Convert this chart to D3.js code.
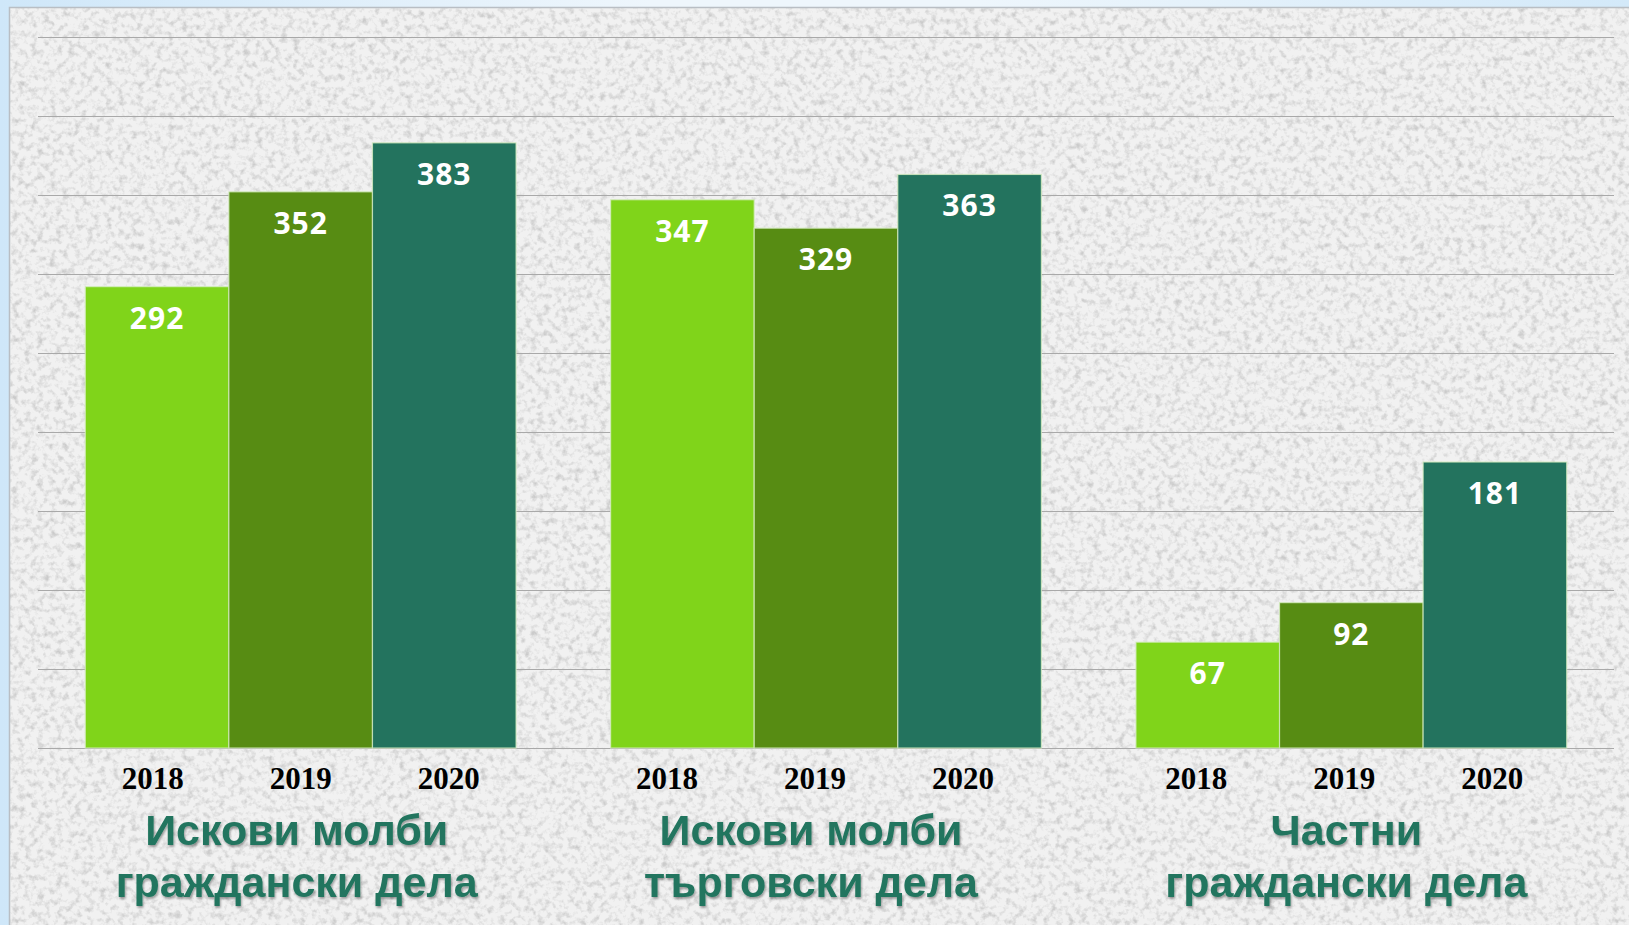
<!DOCTYPE html>
<html>
<head>
<meta charset="utf-8">
<script src="https://cdn.jsdelivr.net/npm/d3@7"></script>
<style>
  html, body { margin: 0; padding: 0; overflow: hidden; }
  body { background: linear-gradient(90deg, #cfe7f9 0%, #eef6fc 40%, #eef6fc 60%, #d3e9f9 100%); }
  .grid line { stroke: #a9a9a9; stroke-width: 1; }
  .grid .domain { display: none; }
</style>
</head>
<body>
<div id="chart"></div>
<script>
// chart data
var categories = [["Искови молби", "граждански дела"], ["Искови молби", "търговски дела"], ["Частни", "граждански дела"]];
var years = ["2018", "2019", "2020"];
var values2018 = [292, 347, 67];
var values2019 = [352, 329, 92];
var values2020 = [383, 363, 181];
var yTicks = [0, 50, 100, 150, 200, 250, 300, 350, 400, 450];
var barColors = ["#80d41a", "#578c13", "#23735e"];

var totalWidth = 1629,
  totalHeight = 925;

// plot area inside the textured panel
var plot = {left: 38, right: 1614, top: 37, bottom: 748};

// the text boxes in the original are nudged a little per group
var titleNudge = [-4, -15, -5],
  yearNudge = [0, -11, -7];

var svg = d3.select("#chart").append("svg")
    .attr("width", totalWidth)
    .attr("height", totalHeight);

var defs = svg.append("defs");

// granite-like texture for the panel
var tex = defs.append("filter").attr("id", "granite")
    .attr("x", 0).attr("y", 0).attr("width", 1).attr("height", 1);
tex.append("feTurbulence")
    .attr("type", "fractalNoise")
    .attr("baseFrequency", 0.16)
    .attr("numOctaves", 3)
    .attr("seed", 7)
    .attr("result", "noise");
tex.append("feColorMatrix")
    .attr("in", "noise")
    .attr("type", "matrix")
    .attr("values", "0 0 0 0 0.6  0 0 0 0 0.6  0 0 0 0 0.6  2.6 0 0 0 -1.2");

var shadow = defs.append("filter").attr("id", "shadow")
    .attr("x", "-10%").attr("y", "-20%").attr("width", "120%").attr("height", "140%");
shadow.append("feDropShadow")
    .attr("dx", 1).attr("dy", 2)
    .attr("stdDeviation", 1.2)
    .attr("flood-color", "#000")
    .attr("flood-opacity", 0.35);

// panel background
svg.append("rect")
    .attr("x", 9).attr("y", 7)
    .attr("width", totalWidth - 9).attr("height", totalHeight - 7)
    .attr("fill", "#f1f1f1");
svg.append("rect")
    .attr("x", 9).attr("y", 7)
    .attr("width", totalWidth - 9).attr("height", totalHeight - 7)
    .attr("fill", "#fff")
    .attr("filter", "url(#granite)");
svg.append("path")
    .attr("d", "M9.5," + totalHeight + "V7.5H" + totalWidth)
    .attr("fill", "none")
    .attr("stroke", "#b9bec4")
    .attr("stroke-width", 1.5);

// scales
var x0 = d3.scaleBand()
    .domain(d3.range(categories.length))
    .range([plot.left, plot.right])
    .paddingInner(0.18)
    .paddingOuter(0.09);

var x1 = d3.scaleBand()
    .domain(years)
    .range([0, x0.bandwidth()]);

// year labels sit a bit wider apart than the bars
var xLabel = d3.scalePoint()
    .domain(years)
    .range([-148, 148]);

var yScale = d3.scaleLinear()
    .domain([0, 450])
    .range([plot.bottom, plot.top]);

var color = d3.scaleOrdinal()
    .domain(years)
    .range(barColors);

// horizontal gridlines
svg.append("g")
    .attr("class", "grid")
    .attr("transform", "translate(" + plot.left + ",0)")
    .call(d3.axisLeft(yScale)
      .tickValues(yTicks)
      .tickSize(-(plot.right - plot.left))
      .tickFormat(""));

// build flat list of bars
var seriesByYear = {"2018": values2018, "2019": values2019, "2020": values2020};
var bars = [];
categories.forEach(function(c, i) {
  years.forEach(function(y) {
    bars.push({cat: i, year: y, value: seriesByYear[y][i]});
  });
});

var barG = svg.append("g");

barG.selectAll("rect")
    .data(bars)
  .enter().append("rect")
    .attr("x", function(d) { return x0(d.cat) + x1(d.year); })
    .attr("y", function(d) { return yScale(d.value); })
    .attr("width", x1.bandwidth())
    .attr("height", function(d) { return yScale(0) - yScale(d.value); })
    .attr("fill", function(d) { return color(d.year); })
    .attr("stroke", "#d6ecc0")
    .attr("stroke-opacity", 0.8)
    .attr("stroke-width", 1.2);

// value labels inside bars
barG.selectAll("text")
    .data(bars)
  .enter().append("text")
    .attr("x", function(d) { return x0(d.cat) + x1(d.year) + x1.bandwidth() / 2; })
    .attr("y", function(d) { return yScale(d.value) + 42; })
    .attr("text-anchor", "middle")
    .attr("fill", "#fff")
    .style("font-family", "'Open Sans', sans-serif")
    .style("font-weight", 700)
    .style("font-size", "30px")
    .style("letter-spacing", "1px")
    .text(function(d) { return d.value; });

// year labels under bars
svg.append("g").selectAll("text")
    .data(bars)
  .enter().append("text")
    .attr("x", function(d) { return x0(d.cat) + x0.bandwidth() / 2 + xLabel(d.year) + yearNudge[d.cat]; })
    .attr("y", 789)
    .attr("text-anchor", "middle")
    .attr("fill", "#000")
    .style("font-family", "'Liberation Serif', serif")
    .style("font-weight", 700)
    .style("font-size", "31px")
    .text(function(d) { return d.year; });

// category titles (two lines)
var catText = svg.append("g").selectAll("text")
    .data(categories)
  .enter().append("text")
    .attr("x", function(d, i) { return x0(i) + x0.bandwidth() / 2 + titleNudge[i]; })
    .attr("y", 845)
    .attr("text-anchor", "middle")
    .attr("fill", "#21755e")
    .attr("filter", "url(#shadow)")
    .style("font-family", "'Liberation Sans', Arial, sans-serif")
    .style("font-weight", 700)
    .style("font-size", "43px");

catText.selectAll("tspan")
    .data(function(d) { return d; })
  .enter().append("tspan")
    .attr("x", function() { return d3.select(this.parentNode).attr("x"); })
    .attr("dy", function(d, i) { return i === 0 ? 0 : 52; })
    .text(function(d) { return d; });
</script>
</body>
</html>
